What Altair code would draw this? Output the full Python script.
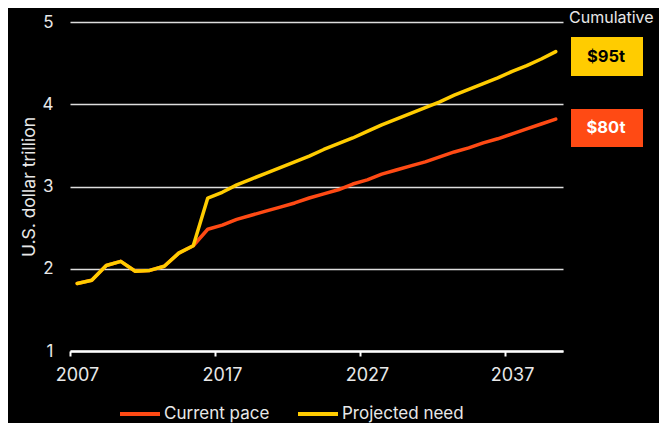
import altair as alt
import pandas as pd

years = list(range(2007, 2041))
shared = [1.82, 1.86, 2.04, 2.09, 1.97, 1.98, 2.03, 2.19, 2.28]
current_tail = [2.48, 2.53, 2.60, 2.65, 2.70, 2.75, 2.80, 2.86, 2.91, 2.96,
                3.03, 3.08, 3.15, 3.20, 3.25, 3.30, 3.36, 3.42, 3.47, 3.53,
                3.58, 3.64, 3.70, 3.76, 3.82]
projected_tail = [2.86, 2.93, 3.02, 3.09, 3.16, 3.23, 3.30, 3.37, 3.45, 3.52,
                  3.59, 3.67, 3.75, 3.82, 3.89, 3.96, 4.03, 4.11, 4.18, 4.25,
                  4.32, 4.40, 4.47, 4.55, 4.64]
series_names = ["Current pace", "Projected need"]
series_colors = ["#FF4A14", "#FFCC00"]
tick_years = [2007, 2017, 2027, 2037]
y_ticks = [1, 2, 3, 4, 5]
badges = ["$95t", "$80t"]

current = shared + current_tail
projected = shared + projected_tail

rows = []
for name, vals in zip(series_names, [current, projected]):
    for yr, v in zip(years, vals):
        rows.append({"pos": yr + 0.5, "value": v, "series": name})
df = pd.DataFrame(rows)

FONT = "Inter"
TXT = "#E8E8E8"

lines = alt.Chart(df).mark_line(strokeWidth=3.5, strokeJoin="round", strokeCap="round").encode(
    x=alt.X("pos:Q", scale=alt.Scale(domain=[2007, 2041], nice=False),
            axis=alt.Axis(values=tick_years, format="d", title=None, grid=False,
                          domainColor="#FFFFFF", domainWidth=2.5, tickColor="#FFFFFF",
                          tickWidth=2, tickSize=5, labelColor=TXT, labelFont=FONT,
                          labelFontSize=18, labelPadding=10, labelOffset=7,
                          labelFlush=False)),
    y=alt.Y("value:Q", scale=alt.Scale(domain=[1, 5], nice=False),
            axis=alt.Axis(values=y_ticks, title="U.S. dollar trillion", grid=True,
                          gridColor="#DDDDDD", gridWidth=1.5, domain=False, ticks=False,
                          labelColor=TXT, labelFont=FONT, labelFontSize=17,
                          labelPadding=17, titleColor=TXT, titleFont=FONT,
                          titleFontSize=17.5, titleFontWeight="normal", titlePadding=4)),
    color=alt.Color("series:N", scale=alt.Scale(domain=series_names, range=series_colors),
                    legend=alt.Legend(title=None, orient="none", direction="horizontal",
                                      legendX=48, legendY=370, symbolType="stroke",
                                      symbolSize=1600, symbolStrokeWidth=4,
                                      labelColor=TXT, labelFont=FONT, labelFontSize=17,
                                      columnPadding=20, labelOffset=2)),
    order=alt.Order("series:N"),
)

ann = pd.DataFrame({"label": badges, "fill": ["#FFCC00", "#FF4A14"],
                    "tc": ["#000000", "#FFFFFF"], "y1": [15, 87], "y2": [54, 125]})

boxes = alt.Chart(ann).mark_rect().encode(
    x=alt.value(501), x2=alt.value(573),
    y=alt.Y("y1:Q", scale=None), y2=alt.Y2("y2:Q"),
    fill=alt.Fill("fill:N", scale=None),
)
box_text = alt.Chart(ann).mark_text(font=FONT, fontSize=16.5, fontWeight="bold", baseline="middle").encode(
    x=alt.value(536),
    y=alt.Y("ym:Q", scale=None),
    text="label:N",
    color=alt.Color("tc:N", scale=None),
).transform_calculate(ym="(datum.y1 + datum.y2) / 2")

cum = alt.Chart(pd.DataFrame({"t": ["Cumulative"]})).mark_text(
    font=FONT, fontSize=16, color=TXT, align="left", baseline="middle"
).encode(x=alt.value(499), y=alt.value(-4), text="t:N")

chart = alt.layer(lines, boxes, box_text, cum).properties(
    width=493, height=329, autosize="none",
    padding={"left": 62, "top": 14, "right": 96, "bottom": 80},
    background="#000000",
).configure_view(stroke=None)

chart.save("out.html", embed_options={"renderer": "svg", "actions": False})
